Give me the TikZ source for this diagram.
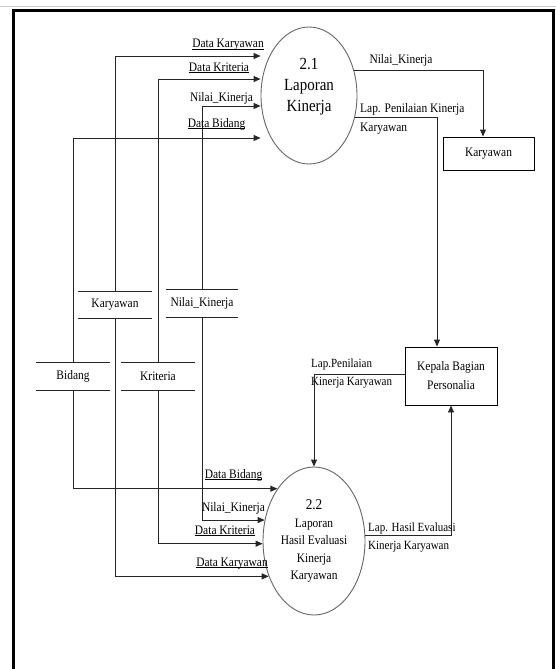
\documentclass[tikz,border=0pt]{standalone}
\usepackage{fontspec}
\setmainfont{Liberation Serif}[FakeStretch=0.88]
\usetikzlibrary{arrows.meta,shapes.geometric}
\newcommand\lbl{\fontsize{13}{17}\selectfont}
\newcommand\uln[1]{\underline{\smash{#1}}}
\tikzset{
  conn/.style={draw=black!85, line width=0.9pt},
  arr/.style={conn, -{Triangle[length=7pt,width=6pt]}},
  proc/.style={ellipse, draw=black!60, line width=0.9pt, inner sep=0pt},
  ent/.style={rectangle, draw=black, line width=0.9pt, align=center, font=\lbl},
  store/.style={rectangle, inner sep=0pt, font=\lbl},
  storeline/.style={draw=black!85, line width=1.1pt},
  lab/.style={inner sep=0pt, font=\lbl, align=left},
}
\begin{document}
\begin{tikzpicture}[x=1pt,y=-1pt]
\fill[white] (0,0) rectangle (556,669);
\useasboundingbox (0,0) rectangle (556,669);
\draw[gray!40, line width=1pt] (0,7) -- (556,7);
\draw[line width=3pt] (13,669) -- (13,11) -- (553,11) -- (553,669);

% processes
\node[proc, minimum width=96pt, minimum height=137pt] (e21) at (309,95.5) {};
\node[font=\fontsize{17}{21}\selectfont, align=center, inner sep=0pt] (t21) at (309,87) {2.1\\Laporan\\Kinerja};
\node[proc, minimum width=102pt, minimum height=148pt] (e22) at (314,541) {};
\node[align=center, inner sep=0pt, font=\fontsize{13}{17.5}\selectfont] (t22) at (314,541)
  {{\fontsize{15}{17.5}\selectfont 2.2}\\Laporan\\Hasil Evaluasi\\Kinerja\\Karyawan};

% entities
\node[ent, minimum width=91pt, minimum height=33pt] (kbox) at (488.5,153.5) {Karyawan};
\node[ent, minimum width=92pt, minimum height=58pt, font=\fontsize{13}{19}\selectfont] (kep) at (451,376) {Kepala Bagian\\Personalia};

% data stores
\node[store, minimum width=73pt, minimum height=26pt] (skar) at (115,305) {Karyawan};
\node[store, minimum width=72pt, minimum height=27pt] (snil) at (202,303.5) {Nilai\_Kinerja};
\node[store, minimum width=73pt, minimum height=27pt] (sbid) at (73,376.5) {Bidang};
\node[store, minimum width=73pt, minimum height=27pt] (skri) at (158,376.5) {Kriteria};
\foreach \s in {skar,snil,sbid,skri}
  \draw[storeline] (\s.north west) -- (\s.north east) (\s.south west) -- (\s.south east);

% flows into 2.1
\draw[arr] (skar.north) |- (e21.west |- 0,56);
\draw[arr] (skri.north) |- (e21.west |- 0,79);
\draw[arr] (snil.north) |- (e21.west |- 0,106);
\draw[arr] (sbid.north) |- (e21.west |- 0,138);

% flows into 2.2
\draw[arr] (sbid.south) |- (e22.125);
\draw[arr] (snil.south) |- (e22.157);
\draw[arr] (skri.south) |- (e22.183);
\draw[arr] (skar.south) |- (e22.218);

% outputs
\draw[arr] (e21.29) -| ([xshift=-5.5pt]kbox.north);
\draw[arr] (e21.335) -| ([xshift=-14pt]kep.north);
\draw[arr] ([yshift=2pt]kep.west) -| (e22.north);
\draw[arr] (e22.6) -| (kep.south);

% labels
\node[lab] (la1) at (228,49) {\uln{Data Karyawan}};
\node[lab] (la2) at (219,72) {\uln{Data Kriteria}};
\node[lab] (la3) at (221.5,98) {Nilai\_Kinerja};
\node[lab] (la4) at (216.5,128) {\uln{Data Bidang}};
\node[lab] (lb1) at (233.5,479) {\uln{Data Bidang}};
\node[lab] (lb2) at (233.5,508) {Nilai\_Kinerja};
\node[lab] (lb3) at (225,535) {\uln{Data Kriteria}};
\node[lab] (lb4) at (232,567) {\uln{Data Karyawan}};
\node[lab] (lc1) at (401,60) {Nilai\_Kinerja};
\node[lab, anchor=west, font=\fontsize{13}{19}\selectfont] (lc2) at (360,118.5) {Lap. Penilaian Kinerja\\Karyawan};
\node[lab, anchor=west, font=\fontsize{12.5}{18}\selectfont] (lc3) at (311,374) {Lap.Penilaian\\Kinerja Karyawan};
\node[lab, anchor=west, font=\fontsize{12.5}{18}\selectfont] (lc4) at (368,538) {Lap. Hasil Evaluasi\\Kinerja Karyawan};
\end{tikzpicture}
\end{document}
